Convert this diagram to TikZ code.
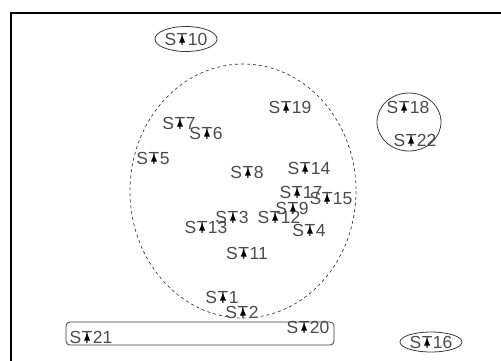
\documentclass[tikz,border=0pt]{standalone}
\usepackage{fontspec}
\setmainfont{Liberation Sans}
\usetikzlibrary{shapes.geometric}
\definecolor{txtc}{RGB}{75,75,75}
\definecolor{linec}{RGB}{60,60,60}
\newcommand\trimk{\tikz[x=1pt,y=1pt,baseline=0pt]{\fill[black] (-3,2.5)--(3,2.5)--(0,9.5)--cycle;}}
\newcommand\stlab[1]{S\kern0.5pt\ooalign{T\cr\hidewidth\trimk\hidewidth\cr}\kern0.5pt#1}
\begin{document}
\begin{tikzpicture}[x=1pt,y=-1pt,
  stn/.style={font=\fontsize{17.5pt}{17.5pt}\selectfont, text=txtc, inner sep=0pt},
  ring/.style={draw=linec, line width=0.8pt, ellipse, inner sep=0pt},
  grp/.style={draw=linec, line width=0.8pt}]
\useasboundingbox (0,0) rectangle (501,360);
\clip (0,0) rectangle (501,360);
\fill[white] (0,0) rectangle (501,360);
\draw[line width=1.5pt] (11,13) rectangle (520,380);
% dashed ellipse
\draw[dashed, dash pattern=on 3pt off 3pt, draw=linec, line width=0.7pt] (243,191) ellipse [x radius=113, y radius=127];
% stations
\node[stn, ring, minimum width=62, minimum height=25] (st10) at (186,39) {\stlab{10}};
\node[stn] (st18) at (408,107) {\stlab{18}};
\node[stn] (st22) at (415,140) {\stlab{22}};
\draw[grp] (409,122) ellipse [x radius=32, y radius=29];
\node[stn] (st7) at (179,123) {\stlab{7}};
\node[stn] (st6) at (206,133) {\stlab{6}};
\node[stn] (st5) at (153,158) {\stlab{5}};
\node[stn] (st19) at (290,107) {\stlab{19}};
\node[stn] (st8) at (247,172) {\stlab{8}};
\node[stn] (st14) at (309,168) {\stlab{14}};
\node[stn] (st17) at (301,192) {\stlab{17}};
\node[stn] (st15) at (331,198) {\stlab{15}};
\node[stn] (st9) at (292,208) {\stlab{9}};
\node[stn] (st3) at (232,217) {\stlab{3}};
\node[stn] (st12) at (279,217) {\stlab{12}};
\node[stn] (st13) at (206,227) {\stlab{13}};
\node[stn] (st4) at (309,230) {\stlab{4}};
\node[stn] (st11) at (247,253) {\stlab{11}};
\node[stn] (st1) at (222,297) {\stlab{1}};
\node[stn] (st2) at (242,312) {\stlab{2}};
\node[stn] (st20) at (308,327) {\stlab{20}};
\node[stn] (st21) at (91,337) {\stlab{21}};
\draw[grp, rounded corners=4pt] (66,322) rectangle (334,345);
\node[stn, ring, minimum width=62, minimum height=20] (st16) at (431,342) {\stlab{16}};
\end{tikzpicture}
\end{document}
